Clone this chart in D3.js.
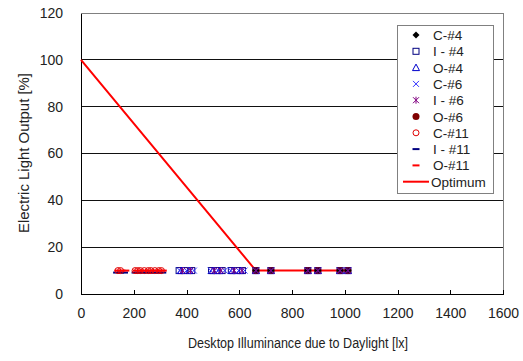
<!DOCTYPE html>
<html>
<head>
<meta charset="utf-8">
<script src="https://cdn.jsdelivr.net/npm/d3@7"></script>
<style>
  html, body { margin: 0; padding: 0; background: #fff; }
  svg { display: block; }
  svg text { font-family: "Liberation Sans", Arial, sans-serif; }
</style>
</head>
<body>
<svg id="chart" width="523" height="361"></svg>
<script>
// Measured illuminance (lx) for each controller / room; all sit at 10 % output
const level = 10;
const c4  = [663, 720, 860, 898, 982, 1012];
const i4  = [372, 392, 420, 495, 515, 535, 570, 590, 612, 663, 720, 860, 898, 982, 1012];
const o4  = [380, 410, 500, 525, 575, 605, 663, 720, 860, 898, 982, 1012];
const c6  = [375, 400, 428, 492, 520, 545, 568, 598, 620, 663, 720, 860, 898, 982, 1012];
const i6  = [385, 415, 505, 530, 580, 610, 663, 720, 860, 898, 982, 1012];
const o6  = [663, 720, 860, 898, 982, 1012];
const c11 = [140, 150, 205, 215, 225, 240, 255, 265, 280, 295, 305];
const i11 = [135, 150, 165, 205, 220, 235, 250, 265, 280, 295, 310];
const o11 = [140, 155, 170, 210, 225, 240, 255, 270, 285, 300, 312];

// Optimum control curve
const optimumX = [0, 663, 1020];
const optimumY = [100, 10, 10];

const xTicks = [0, 200, 400, 600, 800, 1000, 1200, 1400, 1600];
const yTicks = [0, 20, 40, 60, 80, 100, 120];

const seriesNames = ["C-#4", "I - #4", "O-#4", "C-#6", "I - #6", "O-#6", "C-#11", "I - #11", "O-#11"];
const seriesData  = [c4, i4, o4, c6, i6, o6, c11, i11, o11];
// stacking order of the markers on the plot (last on top)
const drawOrder   = [1, 2, 5, 0, 3, 4, 7, 6, 8];

const svg = d3.select("#chart");
const m = { left: 81, right: 503, top: 13, bottom: 294 };

const x = d3.scaleLinear().domain([0, 1600]).range([m.left, m.right]);
const y = d3.scaleLinear().domain([0, 120]).range([m.bottom, m.top]);

// Gridlines
svg.append("g").selectAll("line").data(yTicks.filter(d => d > 0 && d < 120)).join("line")
  .attr("x1", m.left).attr("x2", m.right)
  .attr("y1", d => y(d)).attr("y2", d => y(d))
  .attr("stroke", "#111").attr("stroke-width", 1)
  .attr("shape-rendering", "crispEdges");

// Frame: top and right in grey
svg.append("path")
  .attr("d", `M${m.left},${y(120)}H${m.right}V${m.bottom}`)
  .attr("fill", "none").attr("stroke", "#808080").attr("stroke-width", 1)
  .attr("shape-rendering", "crispEdges");

// Axes
const xAxis = d3.axisBottom(x).tickValues(xTicks).tickFormat(d3.format("d"))
  .tickSize(-4).tickPadding(14).tickSizeOuter(0);
const gx = svg.append("g").attr("transform", `translate(0,${m.bottom})`).call(xAxis);
gx.attr("font-family", null);
gx.select(".domain").attr("stroke", "#000").attr("shape-rendering", "crispEdges");
gx.selectAll(".tick line").attr("stroke", "#000").attr("shape-rendering", "crispEdges");
gx.selectAll("text").attr("font-size", 14).attr("fill", "#222");

const yAxis = d3.axisLeft(y).tickValues(yTicks).tickFormat(d3.format("d"))
  .tickSize(0).tickPadding(18).tickSizeOuter(0);
const gy = svg.append("g").attr("transform", `translate(${m.left},0)`).call(yAxis);
gy.attr("font-family", null);
gy.select(".domain").attr("stroke", "#000").attr("shape-rendering", "crispEdges");
gy.selectAll("text").attr("font-size", 14).attr("fill", "#222");

// Axis titles
svg.append("text")
  .attr("x", 298).attr("y", 348)
  .attr("text-anchor", "middle").attr("font-size", 14).attr("fill", "#222")
  .attr("textLength", 220).attr("lengthAdjust", "spacingAndGlyphs")
  .text("Desktop Illuminance due to Daylight [lx]");
svg.append("text")
  .attr("transform", `translate(29,153) rotate(-90)`)
  .attr("text-anchor", "middle").attr("font-size", 14).attr("fill", "#222")
  .attr("textLength", 160).attr("lengthAdjust", "spacingAndGlyphs")
  .text("Electric Light Output [%]");

// Marker styles for each series
const styles = [
  { shape: "diamond",  fill: "#000",    stroke: "#000" },
  { shape: "square",   fill: "none",    stroke: "#000080" },
  { shape: "triangle", fill: "none",    stroke: "#0000cc" },
  { shape: "cross",    fill: "none",    stroke: "#3333ff" },
  { shape: "star",     fill: "none",    stroke: "#800080" },
  { shape: "circle",   fill: "#800000", stroke: "#800000" },
  { shape: "ocircle",  fill: "none",    stroke: "#e00000" },
  { shape: "dash",     fill: "none",    stroke: "#000080" },
  { shape: "dash",     fill: "none",    stroke: "#ff0000" }
];

function drawMarker(g, st, cx, cy) {
  const s = 3.5;
  switch (st.shape) {
    case "diamond":
      g.append("path").attr("d", `M${cx},${cy - s}L${cx + s},${cy}L${cx},${cy + s}L${cx - s},${cy}Z`)
        .attr("fill", st.fill); break;
    case "square":
      g.append("rect").attr("x", cx - 3).attr("y", cy - 3).attr("width", 6).attr("height", 6)
        .attr("fill", "none").attr("stroke", st.stroke); break;
    case "triangle":
      g.append("path").attr("d", `M${cx},${cy - 3.5}L${cx + 3.5},${cy + 3}L${cx - 3.5},${cy + 3}Z`)
        .attr("fill", "none").attr("stroke", st.stroke); break;
    case "cross":
      g.append("path").attr("d", `M${cx - 3},${cy - 3}L${cx + 3},${cy + 3}M${cx - 3},${cy + 3}L${cx + 3},${cy - 3}`)
        .attr("stroke", st.stroke); break;
    case "star":
      g.append("path").attr("d", `M${cx - 3},${cy - 3}L${cx + 3},${cy + 3}M${cx - 3},${cy + 3}L${cx + 3},${cy - 3}M${cx},${cy - 3.5}V${cy + 3.5}`)
        .attr("stroke", st.stroke); break;
    case "circle":
      g.append("circle").attr("cx", cx).attr("cy", cy).attr("r", 3.5).attr("fill", st.fill); break;
    case "ocircle":
      g.append("circle").attr("cx", cx).attr("cy", cy).attr("r", 3).attr("fill", "none").attr("stroke", st.stroke); break;
    case "dash":
      g.append("path").attr("d", `M${cx - 3.5},${cy}H${cx + 3.5}`).attr("stroke", st.stroke).attr("stroke-width", 2); break;
  }
}

// Optimum line (drawn under the markers)
const line = d3.line().x(d => x(d[0])).y(d => y(d[1]));
svg.append("path")
  .datum(optimumX.map((v, i) => [v, optimumY[i]]))
  .attr("d", line).attr("fill", "none").attr("stroke", "#ff0000").attr("stroke-width", 2);

// Data markers
const pts = svg.append("g");
drawOrder.forEach(k => {
  seriesData[k].forEach(v => drawMarker(pts, styles[k], x(v), y(level) + (k === 7 ? 2 : 0)));
});

// Legend
const lg = svg.append("g");
lg.append("rect").attr("x", 397.5).attr("y", 25.5).attr("width", 96).attr("height", 168)
  .attr("fill", "#fff").attr("stroke", "#808080");
const rowY = i => 35 + i * 16.3;
seriesNames.forEach((name, i) => {
  drawMarker(lg, styles[i], 416, rowY(i));
  lg.append("text").attr("x", 433).attr("y", rowY(i) + 5)
    .attr("font-size", 13.5).attr("fill", "#222").text(name);
});
lg.append("line").attr("x1", 403).attr("x2", 429).attr("y1", rowY(9)).attr("y2", rowY(9))
  .attr("stroke", "#ff0000").attr("stroke-width", 2);
lg.append("text").attr("x", 431).attr("y", rowY(9) + 5)
  .attr("font-size", 13.5).attr("fill", "#222").text("Optimum");
</script>
</body>
</html>
